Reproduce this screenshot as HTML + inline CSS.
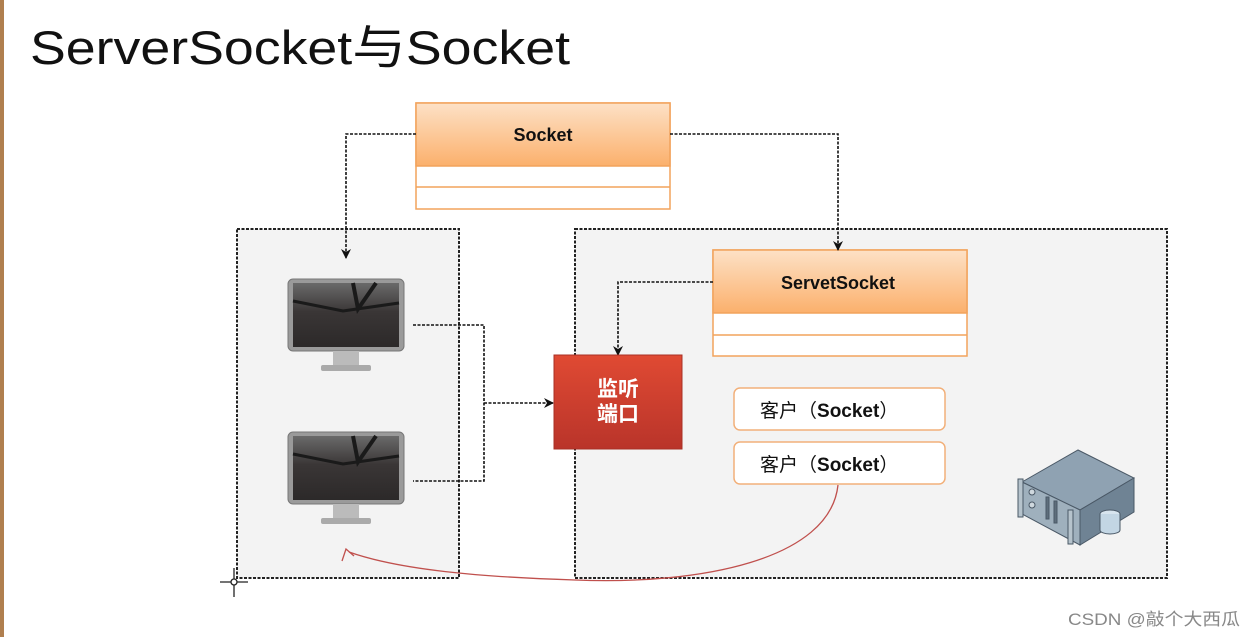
<!DOCTYPE html>
<html><head><meta charset="utf-8"><style>
html,body{margin:0;padding:0;background:#fff;width:1254px;height:637px;overflow:hidden}
svg{display:block}
</style></head><body>
<svg width="1254" height="637" viewBox="0 0 1254 637" xmlns="http://www.w3.org/2000/svg">
<defs>
<linearGradient id="og" x1="0" y1="0" x2="0" y2="1"><stop offset="0" stop-color="#fde1c6"/><stop offset="1" stop-color="#fbb06c"/></linearGradient>
<linearGradient id="rg" x1="0" y1="0" x2="0" y2="1"><stop offset="0" stop-color="#e04a33"/><stop offset="1" stop-color="#b9342a"/></linearGradient>
<linearGradient id="sg" x1="0" y1="0" x2="0" y2="1"><stop offset="0" stop-color="#6a6a6a"/><stop offset="0.45" stop-color="#3a3636"/><stop offset="1" stop-color="#2c2929"/></linearGradient>
<marker id="ah" markerWidth="10" markerHeight="10" refX="9" refY="5" orient="auto" markerUnits="userSpaceOnUse"><path d="M0,0 L10,5 L0,10 L3,5 Z" fill="#111"/></marker>
<g id="mon">
<rect x="0" y="0" width="116" height="72" rx="5" fill="#9a9a9a" stroke="#777" stroke-width="1"/>
<rect x="5" y="4" width="106" height="64" fill="url(#sg)"/>
<path d="M5,22 L55,32 L111,24" stroke="#1a1a1a" stroke-width="3" fill="none"/>
<path d="M65,4 L70,30 L88,4" stroke="#1a1a1a" stroke-width="4" fill="none"/>
<rect x="45" y="72" width="26" height="14" fill="#bbb"/>
<rect x="33" y="86" width="50" height="6" rx="2" fill="#aaa"/>
</g>
</defs>
<rect x="0" y="0" width="4" height="637" fill="#b07f4f"/>
<text x="30" y="64" font-family="Liberation Sans, Noto Sans CJK SC, sans-serif" font-size="47" fill="#111" textLength="540" lengthAdjust="spacingAndGlyphs">ServerSocket与Socket</text>

<rect x="237" y="229" width="222" height="349" fill="#f3f3f3" stroke="#222" stroke-width="2" stroke-dasharray="3,1.5"/>
<rect x="575" y="229" width="592" height="349" fill="#f3f3f3" stroke="#222" stroke-width="2" stroke-dasharray="3,1.5"/>

<rect x="416" y="103" width="254" height="106" fill="#fff" stroke="#f2a35c" stroke-width="1.5"/>
<rect x="416" y="103" width="254" height="63" fill="url(#og)" stroke="#f2a35c" stroke-width="1.5"/>
<line x1="416" y1="187" x2="670" y2="187" stroke="#f2a35c" stroke-width="1.5"/>
<text x="543" y="141" text-anchor="middle" font-family="Liberation Sans, sans-serif" font-weight="bold" font-size="18" fill="#111">Socket</text>

<rect x="713" y="250" width="254" height="106" fill="#fff" stroke="#f2a35c" stroke-width="1.5"/>
<rect x="713" y="250" width="254" height="63" fill="url(#og)" stroke="#f2a35c" stroke-width="1.5"/>
<line x1="713" y1="335" x2="967" y2="335" stroke="#f2a35c" stroke-width="1.5"/>
<text x="838" y="289" text-anchor="middle" font-family="Liberation Sans, sans-serif" font-weight="bold" font-size="18" fill="#111">ServetSocket</text>

<g stroke="#111" stroke-width="1.6" stroke-dasharray="3,1.5" fill="none">
<polyline points="416,134 346,134 346,258" marker-end="url(#ah)"/>
<polyline points="670,134 838,134 838,250" marker-end="url(#ah)"/>
<polyline points="713,282 618,282 618,355" marker-end="url(#ah)"/>
<polyline points="413,325 484,325 484,481 413,481"/>
<polyline points="484,403 553,403" marker-end="url(#ah)"/>
</g>

<rect x="554" y="355" width="128" height="94" fill="url(#rg)" stroke="#a83025" stroke-width="1"/>
<text x="618" y="396" text-anchor="middle" font-family="Noto Sans CJK SC, sans-serif" font-weight="bold" font-size="21" fill="#fff">监听</text>
<text x="618" y="421" text-anchor="middle" font-family="Noto Sans CJK SC, sans-serif" font-weight="bold" font-size="21" fill="#fff">端口</text>

<rect x="734" y="388" width="211" height="42" rx="6" fill="#fff" stroke="#f2b07a" stroke-width="1.5"/>
<rect x="734" y="442" width="211" height="42" rx="6" fill="#fff" stroke="#f2b07a" stroke-width="1.5"/>
<text x="760" y="417" font-family="Liberation Sans, Noto Sans CJK SC, sans-serif" font-size="19" fill="#111">客户（<tspan font-weight="bold">Socket</tspan>）</text>
<text x="760" y="471" font-family="Liberation Sans, Noto Sans CJK SC, sans-serif" font-size="19" fill="#111">客户（<tspan font-weight="bold">Socket</tspan>）</text>

<use href="#mon" x="288" y="279"/>
<use href="#mon" x="288" y="432"/>

<path d="M838,485 C830,560 700,585 575,580 C480,577 400,570 349,552" stroke="#c0504d" stroke-width="1.3" fill="none"/>
<path d="M342,561 L346,549 L354,556" stroke="#c0504d" stroke-width="1.3" fill="none"/>

<g stroke="#222" stroke-width="1.3" fill="none">
<line x1="220" y1="582" x2="248" y2="582"/><line x1="234" y1="568" x2="234" y2="597"/>
<circle cx="234" cy="582" r="3" fill="#fff"/>
</g>

<g stroke="#4a5866" stroke-width="1">
<polygon points="1022,482 1078,450 1134,478 1080,510" fill="#8fa2b2"/>
<polygon points="1022,482 1080,510 1080,545 1022,514" fill="#9fb0bd"/>
<polygon points="1080,510 1134,478 1134,512 1080,545" fill="#6f8394"/>
<rect x="1018" y="479" width="5" height="38" fill="#b6c3cc"/>
<rect x="1068" y="510" width="5" height="34" fill="#b6c3cc"/>
<circle cx="1032" cy="492" r="3" fill="#cfd8de"/>
<circle cx="1032" cy="505" r="3" fill="#cfd8de"/>
<rect x="1046" y="497" width="3" height="22" fill="#5e6e7c"/>
<rect x="1054" y="501" width="3" height="22" fill="#5e6e7c"/>
<ellipse cx="1110" cy="514" rx="10" ry="4" fill="#d7e4ee"/>
<path d="M1100,514 L1100,530 A10,4 0 0 0 1120,530 L1120,514" fill="#c3d6e4"/>
</g>

<text x="1068" y="625" font-family="Liberation Sans, Noto Sans CJK SC, sans-serif" font-size="17" fill="#888" textLength="172" lengthAdjust="spacingAndGlyphs">CSDN @敲个大西瓜</text>
</svg>
</body></html>
